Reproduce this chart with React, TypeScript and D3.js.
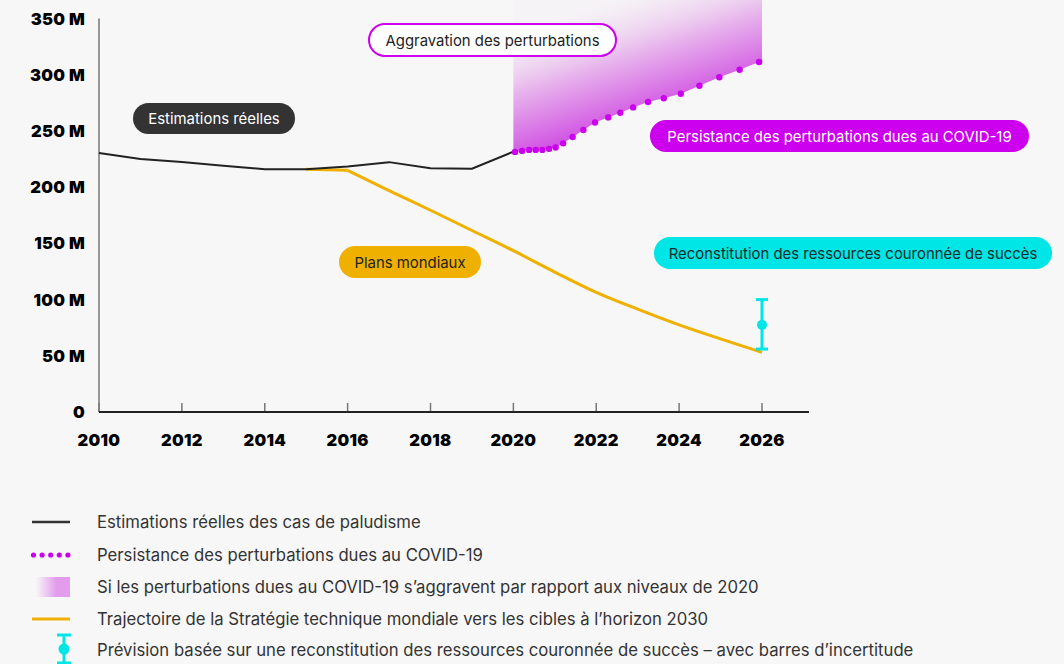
import React from "react";
import * as d3 from "d3";

// ---- Data ----
const actualYears = [2010, 2011, 2012, 2013, 2014, 2015, 2016, 2017, 2018, 2019, 2020];
const actualCases = [230.5, 225, 222.5, 219, 216, 216, 218.5, 222.3, 216.8, 216.5, 231.6];

const gtsYears = [2015, 2016, 2017, 2018, 2019, 2020, 2021, 2022, 2023, 2024, 2025, 2026];
const gtsCases = [216, 215, 197, 179.5, 161.5, 143.5, 124.5, 106.5, 91.5, 77.5, 65, 53];

const covidYears = [2020.04, 2020.21, 2020.38, 2020.54, 2020.7, 2020.86, 2021.02, 2021.2, 2021.43, 2021.69, 2021.97, 2022.29, 2022.58, 2022.89, 2023.25, 2023.63, 2024.04, 2024.49, 2024.97, 2025.46, 2025.93];
const covidCases = [231.4, 232.3, 233.2, 233.2, 233.2, 234.1, 235.3, 239, 244.6, 250.9, 257.6, 262.1, 266.3, 271, 275.8, 279.1, 283.2, 290.3, 297.8, 304.5, 311.4];

const worseYears = [2020, 2026];
const worseUpper = [420, 480];
const worseLowerYears = [2020, ...covidYears, 2026];
const worseLower = [231.6, ...covidCases, 312];

const forecastYear = 2026;
const forecastMid = 77.5;
const forecastLow = 56;
const forecastHigh = 100;

const yTicks = [0, 50, 100, 150, 200, 250, 300, 350];
const yTickLabels = ["0", "50 M", "100 M", "150 M", "200 M", "250 M", "300 M", "350 M"];
const xTicks = [2010, 2012, 2014, 2016, 2018, 2020, 2022, 2024, 2026];

const legendLabels = [
  "Estimations réelles des cas de paludisme",
  "Persistance des perturbations dues au COVID-19",
  "Si les perturbations dues au COVID-19 s’aggravent par rapport aux niveaux de 2020",
  "Trajectoire de la Stratégie technique mondiale vers les cibles à l’horizon 2030",
  "Prévision basée sur une reconstitution des ressources couronnée de succès – avec barres d’incertitude",
];

const pillLabels = [
  "Estimations réelles",
  "Aggravation des perturbations",
  "Persistance des perturbations dues au COVID-19",
  "Reconstitution des ressources couronnée de succès",
  "Plans mondiaux",
];

// ---- Styles ----
const BG = "#f7f7f7";
const BLACK = "#222222";
const MAGENTA = "#cc00ee";
const YELLOW = "#f0b000";
const CYAN = "#00e5e5";
const FONT = "Inter, 'Noto Sans', sans-serif";

export default function App() {
  const W = 1064;
  const H = 664;
  const x = d3.scaleLinear().domain([2010, 2026]).range([99, 762]);
  const y = d3.scaleLinear().domain([0, 350]).range([412, 18.6]);

  const blackLine = d3
    .line<number>()
    .x((_, i) => x(actualYears[i]))
    .y((d) => y(d))(actualCases) as string;

  // flat start segment (2015-2016), then smooth trajectory
  const gtsStart = d3
    .line<number>()
    .x((_, i) => x(gtsYears[i]))
    .y((d) => y(d))(gtsCases.slice(0, 2)) as string;
  const gtsLine = d3
    .line<number>()
    .x((_, i) => x(gtsYears[i + 1]))
    .y((d) => y(d))
    .curve(d3.curveMonotoneX)(gtsCases.slice(1)) as string;

  const lowerPts: [number, number][] = worseLowerYears.map((yr, i) => [x(yr), y(worseLower[i])]);
  const upperPts: [number, number][] = worseYears.map((yr, i) => [x(yr), y(worseUpper[i])]).reverse() as [number, number][];
  const areaPath = "M" + [...lowerPts, ...upperPts].map((p) => p.join(",")).join("L") + "Z";

  const pills = [
    { x: 133, y: 103, w: 162, h: 31, fill: "#333333", stroke: "none", color: "#ffffff" },
    { x: 369, y: 24, w: 247, h: 32, fill: "#ffffff", stroke: MAGENTA, color: "#222222" },
    { x: 650, y: 120, w: 379, h: 32, fill: MAGENTA, stroke: "none", color: "#ffffff" },
    { x: 654, y: 237, w: 398, h: 32, fill: CYAN, stroke: "none", color: "#1a2a2a" },
    { x: 339, y: 246, w: 142, h: 32, fill: YELLOW, stroke: "none", color: "#222222" },
  ];

  const legendY = [522, 555, 587, 619, 650];

  return (
    <svg
      width={W}
      height={H}
      style={{ position: "absolute", left: 0, top: 0, background: BG, display: "block" }}
    >
      <defs>
        <linearGradient id="worseGrad" gradientUnits="userSpaceOnUse" x1={600} y1={5} x2={640} y2={125}>
          <stop offset="0" stopColor="#f3eaf3" stopOpacity={0.3} />
          <stop offset="0.45" stopColor="#e7b5ec" stopOpacity={1} />
          <stop offset="1" stopColor="#cf48e2" stopOpacity={1} />
        </linearGradient>
        <linearGradient id="legendGrad" x1="0" y1="0" x2="1" y2="0">
          <stop offset="0" stopColor="#e39bec" stopOpacity={0} />
          <stop offset="0.6" stopColor="#e39bec" stopOpacity={1} />
          <stop offset="1" stopColor="#e39bec" stopOpacity={1} />
        </linearGradient>
      </defs>
      <rect x={0} y={0} width={W} height={H} fill={BG} />

      {/* Worsening area */}
      <path d={areaPath} fill="url(#worseGrad)" />

      {/* Axes */}
      <line x1={x(2010)} x2={x(2010)} y1={y(350)} y2={y(0)} stroke="#777" strokeWidth={1.5} />
      {xTicks.map((t) => (
        <line key={"xt" + t} x1={x(t)} x2={x(t)} y1={y(0) - 9} y2={y(0)} stroke="#777" strokeWidth={1.5} />
      ))}
      <line x1={x(2010)} x2={809} y1={y(0)} y2={y(0)} stroke={BLACK} strokeWidth={2} />
      {yTicks.map((t, i) => (
        <text
          key={"yl" + t}
          x={85}
          y={y(t)}
          textAnchor="end"
          dominantBaseline="central"
          fontFamily={FONT}
          fontWeight={900}
          fontSize={16.5}
          letterSpacing={0.3}
          fill="#000"
        >
          {yTickLabels[i]}
        </text>
      ))}
      {xTicks.map((t) => (
        <text
          key={"xl" + t}
          x={x(t)}
          y={440}
          textAnchor="middle"
          dominantBaseline="central"
          fontFamily={FONT}
          fontWeight={900}
          fontSize={16.5}
          letterSpacing={0.3}
          fill="#000"
        >
          {t}
        </text>
      ))}

      {/* Lines */}
      <path d={gtsStart} fill="none" stroke={YELLOW} strokeWidth={3} />
      <path d={gtsLine} fill="none" stroke={YELLOW} strokeWidth={3} strokeLinejoin="round" />
      <path d={blackLine} fill="none" stroke={BLACK} strokeWidth={2} />
      {covidCases.map((v, i) => (
        <circle key={"cd" + i} cx={x(covidYears[i])} cy={y(v)} r={3.2} fill={MAGENTA} />
      ))}

      {/* Forecast error bar */}
      <g stroke={CYAN} strokeWidth={3}>
        <line x1={x(forecastYear)} x2={x(forecastYear)} y1={y(forecastHigh)} y2={y(forecastLow)} />
        <line x1={x(forecastYear) - 6} x2={x(forecastYear) + 6} y1={y(forecastHigh)} y2={y(forecastHigh)} />
        <line x1={x(forecastYear) - 6} x2={x(forecastYear) + 6} y1={y(forecastLow)} y2={y(forecastLow)} />
      </g>
      <circle cx={x(forecastYear)} cy={y(forecastMid)} r={5} fill={CYAN} />

      {/* Pills */}
      {pills.map((p, i) => (
        <g key={"pill" + i}>
          <rect
            x={p.x}
            y={p.y}
            width={p.w}
            height={p.h}
            rx={p.h / 2}
            fill={p.fill}
            stroke={p.stroke}
            strokeWidth={p.stroke === "none" ? 0 : 2}
          />
          <text
            x={p.x + p.w / 2}
            y={p.y + p.h / 2 + 0.5}
            textAnchor="middle"
            dominantBaseline="central"
            fontFamily={FONT}
            fontSize={14.9}
            fill={p.color}
          >
            {pillLabels[i]}
          </text>
        </g>
      ))}

      {/* Legend */}
      <line x1={32} x2={70} y1={legendY[0]} y2={legendY[0]} stroke="#333" strokeWidth={2.5} />
      {[0, 1, 2, 3, 4].map((k) => (
        <circle key={"ld" + k} cx={33.5 + k * 8.6} cy={legendY[1]} r={2.6} fill={MAGENTA} />
      ))}
      <rect x={36} y={legendY[2] - 10} width={34} height={20} fill="url(#legendGrad)" />
      <line x1={32} x2={70} y1={legendY[3]} y2={legendY[3]} stroke={YELLOW} strokeWidth={3} />
      <g stroke={CYAN} strokeWidth={3}>
        <line x1={64} x2={64} y1={635} y2={663} />
        <line x1={57} x2={71} y1={635} y2={635} />
        <line x1={57} x2={71} y1={663} y2={663} />
      </g>
      <circle cx={64} cy={649} r={5.5} fill={CYAN} />
      {legendLabels.map((l, i) => (
        <text
          key={"lg" + i}
          x={97}
          y={legendY[i]}
          dominantBaseline="central"
          fontFamily={FONT}
          fontSize={16.7}
          fill="#333"
        >
          {l}
        </text>
      ))}
    </svg>
  );
}
